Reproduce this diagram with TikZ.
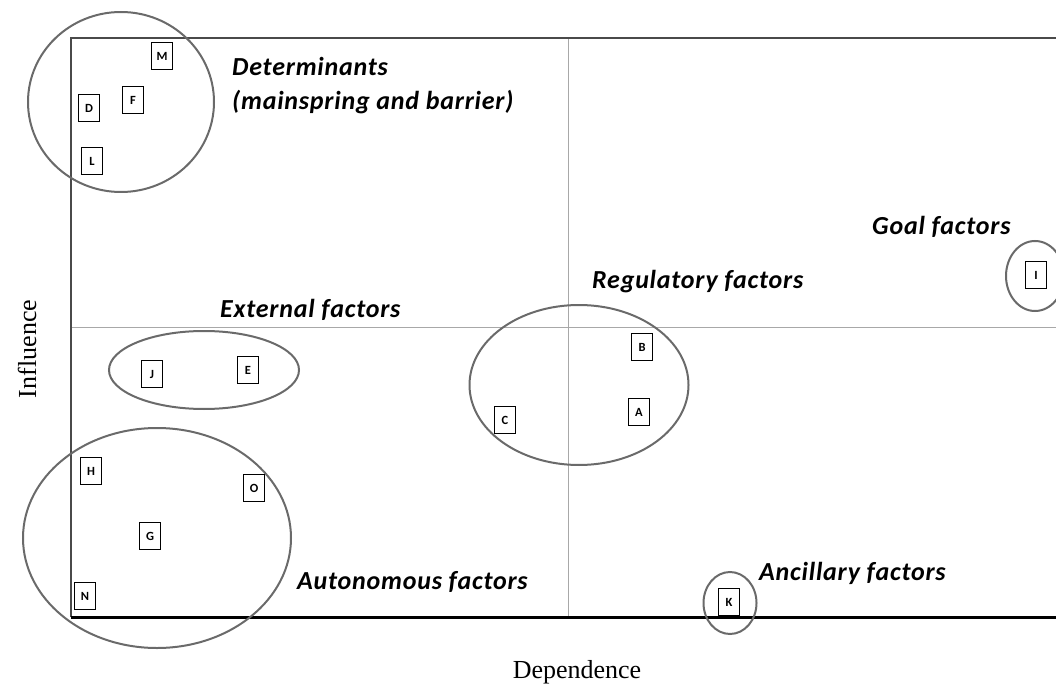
\documentclass[tikz,border=0pt]{standalone}
\usepackage{fontspec}
\usepackage{tikz}
\usepackage{xcolor}
\usetikzlibrary{shapes.geometric}
\setmainfont{Liberation Serif}
\newfontfamily\calibri{Carlito}
\newfontfamily\calibrispaced{Carlito}[LetterSpace=3]

\definecolor{ringgray}{HTML}{6A6A6A}
\definecolor{gridgray}{HTML}{A8A8A8}
\definecolor{framegray}{HTML}{4A4A4A}

\tikzset{
	factorbox/.style={draw, line width=1.3pt, minimum width=21pt, minimum height=27pt, inner sep=0pt, font=\calibri\bfseries\fontsize{12.5}{14}\selectfont},
	ring/.style={draw=ringgray, line width=2pt, ellipse, inner sep=0pt},
	grouplabel/.style={anchor=base west, inner sep=0pt, font=\calibrispaced\bfseries\itshape\fontsize{26}{30}\selectfont},
	axislabel/.style={inner sep=0pt, font=\fontsize{26}{30}\selectfont}
}

\begin{document}
\begin{tikzpicture}[x=1pt, y=-1pt]
	\useasboundingbox (0,0) rectangle (1056,684);
	% frame and quadrants
	\coordinate (topleft) at (71,38);
	\coordinate (origin) at (71,617);
	\coordinate (topright) at (1056,38);
	\coordinate (botright) at (1056,617);
	\coordinate (midtop) at (568,38);
	\coordinate (midbot) at (568,617);
	\coordinate (midleft) at (71,327);
	\coordinate (midright) at (1056,327);
	\draw[gridgray, line width=1pt] (midtop) -- (midbot);
	\draw[gridgray, line width=1pt] (midleft) -- (midright);
	\draw[framegray, line width=1.3pt] (origin) -- (topleft) -- (topright);
	\draw[black, line width=3pt] (origin) -- (botright);
	% groups
	\node[ring, minimum width=186pt, minimum height=180pt] (determ) at (121,102) {};
	\node[ring, minimum width=190pt, minimum height=78pt] (extern) at (204,370) {};
	\node[ring, minimum width=268pt, minimum height=220pt] (autonom) at (157,538) {};
	\node[ring, minimum width=219pt, minimum height=160pt] (regul) at (579,385) {};
	\node[ring, minimum width=58pt, minimum height=70pt] (goal) at (1035,276) {};
	\node[ring, minimum width=53pt, minimum height=62pt] (ancill) at (730,603) {};
	% factors
	\foreach \n/\x/\y in {M/162/56, F/133/100, D/89/108, L/92/161,
		J/152/374, E/248/370, H/91/471, O/254/488, G/150/536, N/85/596,
		B/642/347, A/639/412, C/505/420, I/1036/275, K/729/602}
	{
		\node[factorbox] (\n) at (\x,\y) {\n};
	}
	% labels
	\node[grouplabel] (determlab) at (232,76) {Determinants};
	\node[grouplabel] (determsub) at (232,110) {(mainspring and barrier)};
	\node[grouplabel] (externlab) at (220,317) {External factors};
	\node[grouplabel] (autonomlab) at (297,589) {Autonomous factors};
	\node[grouplabel] (regullab) at (592,288) {Regulatory factors};
	\node[grouplabel] (goallab) at (872,235) {Goal factors};
	\node[grouplabel] (ancilllab) at (759,580) {Ancillary factors};
	\node[axislabel, anchor=base] (deplab) at (577,678) {Dependence};
	\node[axislabel, rotate=90] (inflab) at (27,349) {Influence};
\end{tikzpicture}
\end{document}
